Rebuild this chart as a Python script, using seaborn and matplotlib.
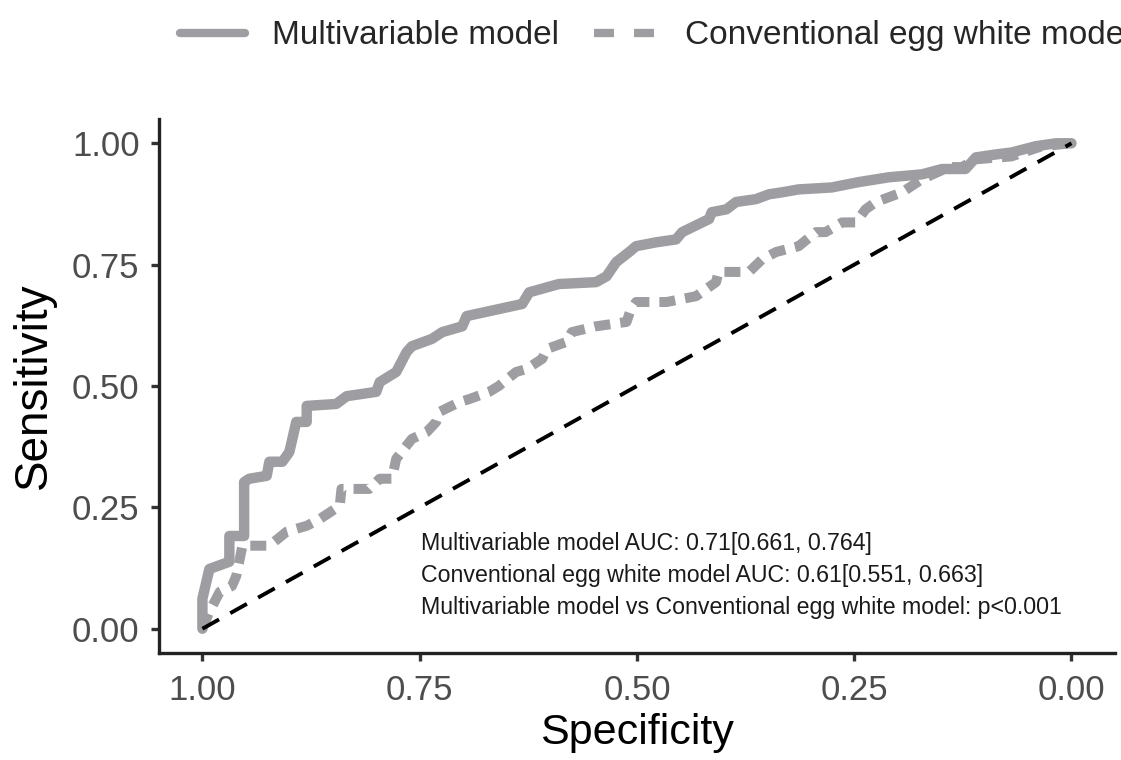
import matplotlib
matplotlib.use("Agg")
import matplotlib.pyplot as plt
from matplotlib import font_manager
from matplotlib.lines import Line2D
import seaborn as sns
import pandas as pd

# ROC coordinates (specificity, sensitivity) for the two models
multi_spec = [1.000, 1.000, 0.992, 0.969, 0.969, 0.952, 0.952, 0.946, 0.926, 0.923,
              0.908, 0.900, 0.892, 0.880, 0.880, 0.846, 0.834, 0.800, 0.796, 0.777,
              0.765, 0.759, 0.736, 0.724, 0.701, 0.696, 0.632, 0.624, 0.590, 0.547,
              0.535, 0.524, 0.509, 0.501, 0.478, 0.455, 0.448, 0.425, 0.417, 0.414,
              0.397, 0.386, 0.363, 0.348, 0.333, 0.314, 0.276, 0.245, 0.210, 0.172,
              0.149, 0.122, 0.110, 0.087, 0.069, 0.041, 0.018, 0.000]
multi_sens = [0.000, 0.062, 0.123, 0.138, 0.191, 0.191, 0.302, 0.309, 0.315, 0.344,
              0.344, 0.364, 0.426, 0.426, 0.459, 0.463, 0.479, 0.488, 0.508, 0.529,
              0.570, 0.582, 0.597, 0.611, 0.623, 0.644, 0.669, 0.693, 0.710, 0.714,
              0.726, 0.755, 0.776, 0.788, 0.796, 0.802, 0.817, 0.837, 0.844, 0.858,
              0.864, 0.879, 0.885, 0.895, 0.899, 0.905, 0.909, 0.920, 0.930, 0.936,
              0.947, 0.947, 0.971, 0.977, 0.981, 0.994, 1.000, 1.000]

conv_spec = [1.000, 0.992, 0.980, 0.966, 0.961, 0.957, 0.954, 0.923, 0.903, 0.880,
             0.865, 0.842, 0.840, 0.808, 0.796, 0.782, 0.777, 0.759, 0.742, 0.731,
             0.727, 0.704, 0.693, 0.670, 0.659, 0.639, 0.627, 0.609, 0.604, 0.581,
             0.575, 0.547, 0.512, 0.507, 0.501, 0.466, 0.432, 0.409, 0.406, 0.371,
             0.356, 0.340, 0.314, 0.294, 0.283, 0.264, 0.248, 0.237, 0.225, 0.195,
             0.172, 0.141, 0.126, 0.110, 0.069, 0.034, 0.000]
conv_sens = [0.000, 0.035, 0.076, 0.088, 0.109, 0.144, 0.171, 0.171, 0.200, 0.212,
             0.226, 0.253, 0.288, 0.288, 0.309, 0.309, 0.350, 0.391, 0.405, 0.426,
             0.447, 0.467, 0.473, 0.488, 0.500, 0.529, 0.535, 0.556, 0.576, 0.591,
             0.611, 0.623, 0.632, 0.658, 0.673, 0.673, 0.685, 0.714, 0.735, 0.735,
             0.761, 0.776, 0.788, 0.817, 0.817, 0.837, 0.837, 0.864, 0.879, 0.899,
             0.926, 0.951, 0.951, 0.967, 0.973, 0.994, 1.000]

chance_spec = [1.0, 0.0]
chance_sens = [0.0, 1.0]

model_names = ["Multivariable model", "Conventional egg white model"]
annotation_lines = [
    "Multivariable model AUC: 0.71[0.661, 0.764]",
    "Conventional egg white model AUC: 0.61[0.551, 0.663]",
    "Multivariable model vs Conventional egg white model: p<0.001",
]
tick_values = [1.00, 0.75, 0.50, 0.25, 0.00]
tick_labels = ["1.00", "0.75", "0.50", "0.25", "0.00"]

sns.set_theme(style="ticks")
installed = {f.name for f in font_manager.fontManager.ttflist}
main_font = "Liberation Sans" if "Liberation Sans" in installed else "DejaVu Sans"
plt.rcParams["font.family"] = [main_font, "DejaVu Sans"]

roc = pd.concat([
    pd.DataFrame({"specificity": multi_spec, "sensitivity": multi_sens, "model": model_names[0]}),
    pd.DataFrame({"specificity": conv_spec, "sensitivity": conv_sens, "model": model_names[1]}),
], ignore_index=True)
chance = pd.DataFrame({"specificity": chance_spec, "sensitivity": chance_sens})

fig = plt.figure(figsize=(11.21, 7.6), dpi=100)
ax = fig.add_axes([0.1418, 0.1408, 0.8528, 0.7026])

line_grey = "#9e9ea2"

# conventional model: thick grey dashed ROC path
sns.lineplot(data=roc[roc.model == model_names[1]], x="specificity", y="sensitivity",
             color=line_grey, linewidth=7.2, estimator=None, sort=False,
             ax=ax, legend=False)
ax.lines[-1].set_dashes((1.6, 1.0))
ax.lines[-1].set_dash_capstyle("butt")

# multivariable model: thick grey solid ROC path
sns.lineplot(data=roc[roc.model == model_names[0]], x="specificity", y="sensitivity",
             color=line_grey, linewidth=7.5, estimator=None, sort=False,
             ax=ax, legend=False)

# chance diagonal
sns.lineplot(data=chance, x="specificity", y="sensitivity", color="black",
             linewidth=2.8, estimator=None, sort=False, ax=ax, legend=False)
ax.lines[-1].set_dashes((4.9, 3.3))

ax.set_xlim(1.05, -0.05)
ax.set_ylim(-0.05, 1.05)
ax.set_xticks(tick_values)
ax.set_xticklabels(tick_labels)
ax.set_yticks(tick_values)
ax.set_yticklabels(tick_labels)
ax.tick_params(axis="both", labelsize=25, labelcolor="#4d4d4d", color="#333333",
               width=2.4, length=6)
ax.tick_params(axis="x", pad=9)
ax.tick_params(axis="y", pad=8)

for side in ("top", "right"):
    ax.spines[side].set_visible(False)
for side in ("left", "bottom"):
    ax.spines[side].set_linewidth(2.4)
    ax.spines[side].set_color("#222222")

ax.set_xlabel("Specificity", fontsize=31, color="black")
ax.set_ylabel("Sensitivity", fontsize=33, color="black")
ax.xaxis.set_label_coords(0.5, -0.112)
ax.yaxis.set_label_coords(-0.108, 0.5)

for y_pos, txt in zip([0.175, 0.109, 0.044], annotation_lines):
    ax.text(0.748, y_pos, txt, ha="left", va="center", fontsize=16.7,
            color="#1a1a1a")

handles = [
    Line2D([], [], color=line_grey, linewidth=6.0),
    Line2D([], [], color=line_grey, linewidth=6.0, linestyle=(0, (2.4, 2.4)),
           dash_capstyle="butt"),
]
fig.legend(handles, model_names, loc="center left", bbox_to_anchor=(0.1606, 0.953),
           ncol=2, frameon=False, fontsize=24, handlelength=1.95,
           handletextpad=0.8, columnspacing=1.05, borderaxespad=0, borderpad=0)

fig.savefig("out.png", dpi=100)
